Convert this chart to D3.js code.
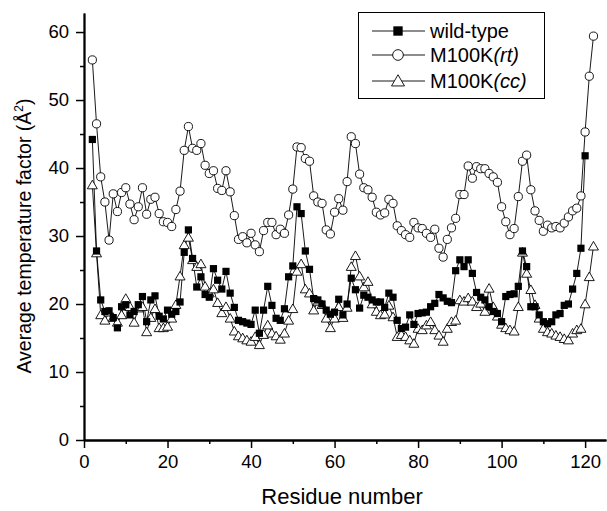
<!DOCTYPE html>
<html>
<head>
<meta charset="utf-8">
<script src="https://cdn.jsdelivr.net/npm/d3@7"></script>
<style>
  body { margin: 0; background: #fff; }
  svg { display: block; font-family: Arial, "Liberation Sans", sans-serif; }
</style>
</head>
<body>
<svg id="canvas"></svg>
<script>
// residue numbers 2..122
let residues = d3.range(2, 123);

// wild-type, residues 2..120
let wildType = [44.2, 27.8, 20.6, 18.9, 19.0, 18.0, 16.5, 19.6, 19.9, 18.4,
  18.9, 19.9, 21.1, 17.4, 20.6, 21.2, 18.2, 17.8, 19.1, 18.5,
  18.9, 20.3, 27.6, 30.9, 26.7, 22.5, 24.0, 21.4, 21.0, 25.2,
  23.5, 22.2, 24.8, 21.6, 19.5, 17.6, 17.4, 17.2, 17.0, 19.1,
  15.7, 19.1, 22.6, 19.8, 17.9, 17.6, 19.3, 24.0, 25.6, 34.3,
  33.3, 27.8, 25.1, 20.8, 20.6, 20.0, 19.1, 18.5, 18.8, 20.7,
  18.4, 20.0, 23.8, 22.1, 19.4, 21.3, 21.0, 20.6, 20.3, 20.3,
  19.5, 21.6, 21.0, 17.6, 16.4, 16.6, 18.4, 17.0, 18.6, 18.7,
  18.8, 19.6, 20.1, 21.4, 20.9, 20.4, 20.2, 24.9, 26.5, 25.5,
  26.5, 24.5, 21.7, 21.0, 20.6, 19.6, 18.9, 18.6, 17.4, 21.1,
  21.4, 21.5, 22.6, 27.8, 25.5, 19.6, 19.6, 18.4, 17.4, 17.1,
  17.4, 18.4, 18.6, 19.8, 20.0, 22.2, 24.5, 28.2, 41.8];

// M100K(rt), residues 2..122
let m100kRT = [55.9, 46.5, 38.7, 35.0, 29.4, 36.2, 33.6, 36.4, 37.1, 34.7,
  32.4, 34.3, 37.1, 33.2, 35.4, 35.7, 33.3, 32.1, 32.0, 31.4,
  33.9, 36.6, 42.6, 46.1, 42.9, 42.6, 43.6, 40.4, 39.2, 39.6,
  37.0, 36.7, 39.6, 36.5, 33.0, 29.5, 29.9, 29.0, 30.4, 28.7,
  27.7, 30.8, 32.0, 32.0, 30.2, 31.0, 30.4, 33.1, 36.9, 43.1,
  43.0, 41.4, 41.0, 35.9, 35.0, 34.8, 30.9, 30.3, 33.5, 35.5,
  33.8, 38.0, 44.6, 43.6, 39.1, 37.1, 36.8, 35.7, 33.5, 33.1,
  33.4, 35.4, 34.8, 31.5, 30.8, 30.2, 29.8, 32.0, 31.2, 31.1,
  30.4, 29.8, 31.0, 28.2, 26.9, 29.5, 31.2, 32.6, 36.1, 36.1,
  40.3, 38.5, 40.2, 39.9, 39.9, 39.2, 38.7, 37.9, 34.3, 32.1,
  30.2, 31.1, 35.8, 41.0, 41.9, 36.8, 33.7, 32.3, 30.7, 31.6,
  31.2, 31.4, 31.2, 31.9, 32.8, 33.7, 34.1, 35.9, 45.3, 53.5,
  59.4];

// M100K(cc), residues 2..122
let m100kCC = [37.5, 27.5, 18.4, 17.6, 18.8, 18.0, 17.3, 18.4, 20.8, 19.6,
  17.3, 19.4, 19.6, 15.9, 18.0, 19.3, 16.5, 16.5, 16.7, 17.9,
  19.9, 24.1, 28.7, 29.8, 26.5, 25.5, 25.9, 22.6, 21.6, 22.2,
  20.2, 18.7, 19.6, 17.9, 16.0, 15.3, 15.0, 14.7, 14.5, 15.2,
  14.0, 15.5, 16.9, 15.7, 15.3, 14.8, 15.7, 17.6, 19.3, 24.8,
  25.9, 22.2, 21.6, 19.1, 20.4, 19.9, 17.9, 16.5, 17.9, 19.6,
  18.0, 19.5, 25.5, 27.1, 24.1, 22.5, 23.3, 20.0, 18.9, 18.4,
  18.5, 19.8, 18.1, 15.2, 15.5, 15.2, 14.7, 14.2, 16.4, 16.2,
  16.9, 17.4, 16.2, 15.4, 14.5, 16.4, 17.4, 17.6, 20.6, 20.4,
  20.9, 20.4, 19.6, 20.1, 18.9, 22.3, 19.6, 18.2, 17.0, 16.5,
  16.2, 16.0, 19.6, 27.6, 24.5, 22.1, 19.9, 17.9, 16.4, 15.9,
  15.7, 15.4, 15.2, 14.9, 14.7, 15.7, 16.2, 16.4, 20.0, 24.0,
  28.5];

let xTicks = [0, 20, 40, 60, 80, 100, 120];
let yTicks = [0, 10, 20, 30, 40, 50, 60];

let seriesNames = ['wild-type', 'M100K', 'M100K'];
let seriesTags = ['', '(rt)', '(cc)'];
let seriesShapes = ['square', 'circle', 'triangle'];

let width = 607;
let height = 511;
let plotLeft = 84, plotRight = 606, plotTop = 13, plotBottom = 440;

let canvas = d3.select('#canvas')
  .attr('width', width)
  .attr('height', height);

let xScale = d3.scaleLinear().domain([0, 125]).range([plotLeft, plotRight]);
let yScale = d3.scaleLinear().domain([0, 62.8]).range([plotBottom, plotTop]);

// marker drawing, s = size factor
let drawMarker = (g, shape, s) => {
  if (shape === 'square') {
    g.append('rect').attr('x', -3.6 * s).attr('y', -3.6 * s)
      .attr('width', 7.2 * s).attr('height', 7.2 * s)
      .attr('fill', '#000');
  } else if (shape === 'circle') {
    g.append('circle').attr('r', 4.1 * s)
      .attr('fill', '#fff').attr('stroke', '#000').attr('stroke-width', 0.9);
  } else {
    g.append('path')
      .attr('d', 'M0,' + (-4.8 * s) + 'L' + (5 * s) + ',' + (3.8 * s) + 'L' + (-5 * s) + ',' + (3.8 * s) + 'Z')
      .attr('fill', '#fff').attr('stroke', '#000').attr('stroke-width', 0.9);
  }
}

let series = [
  residues.slice(0, wildType.length).map((r, i) => ({x: r, y: wildType[i]})),
  residues.map((r, i) => ({x: r, y: m100kRT[i]})),
  residues.map((r, i) => ({x: r, y: m100kCC[i]}))
];

let line = d3.line().x(d => xScale(d.x)).y(d => yScale(d.y));

// lines first, then markers (cc, rt, wt so squares end up on top)
[2, 1, 0].forEach(k => {
  canvas.append('path')
    .datum(series[k])
    .attr('d', line)
    .attr('fill', 'none')
    .attr('stroke', '#000')
    .attr('stroke-width', 0.9);
});
[2, 1, 0].forEach(k => {
  canvas.append('g').selectAll('g')
    .data(series[k])
    .enter()
    .append('g')
    .attr('transform', d => 'translate(' + xScale(d.x) + ',' + yScale(d.y) + ')')
    .each(function () { drawMarker(d3.select(this), seriesShapes[k], 1); });
});

// axes
let xAxis = d3.axisBottom(xScale).tickValues(xTicks).tickSize(8).tickPadding(7).tickSizeOuter(0);
let xMinor = d3.axisBottom(xScale).tickValues(d3.range(10, 125, 20)).tickSize(4).tickFormat('').tickSizeOuter(0);
let yAxis = d3.axisLeft(yScale).tickValues(yTicks).tickSize(8).tickPadding(7).tickSizeOuter(0);
let yMinor = d3.axisLeft(yScale).tickValues(d3.range(5, 62, 10)).tickSize(4).tickFormat('').tickSizeOuter(0);

canvas.append('g').attr('transform', 'translate(0,' + plotBottom + ')').call(xAxis);
canvas.append('g').attr('transform', 'translate(0,' + plotBottom + ')').call(xMinor);
canvas.append('g').attr('transform', 'translate(' + plotLeft + ',0)').call(yAxis);
canvas.append('g').attr('transform', 'translate(' + plotLeft + ',0)').call(yMinor);

canvas.selectAll('.domain').attr('stroke', '#000').attr('stroke-width', 1.8);
canvas.selectAll('.tick line').attr('stroke', '#000').attr('stroke-width', 1.5);
canvas.selectAll('.tick text').attr('fill', '#000').style('font-size', '18.5px')
  .style('font-family', 'Arial, "Liberation Sans", sans-serif');

// axis titles
canvas.append('text')
  .attr('x', 342).attr('y', 504)
  .attr('text-anchor', 'middle')
  .style('font-size', '22px')
  .text('Residue number');

let yTitle = canvas.append('text')
  .attr('transform', 'translate(31,236) rotate(-90)')
  .attr('text-anchor', 'middle')
  .style('font-size', '19.5px');
yTitle.append('tspan').text('Average temperature factor (Å');
yTitle.append('tspan').attr('dy', -8).style('font-size', '12px').text('2');
yTitle.append('tspan').attr('dy', 8).text(')');

// legend
let legend = canvas.append('g');
legend.append('rect')
  .attr('x', 358.5).attr('y', 12.5).attr('width', 186).attr('height', 86)
  .attr('fill', '#fff').attr('stroke', '#000').attr('stroke-width', 1);
let legendY = [31, 55, 81];
seriesNames.forEach((name, k) => {
  let g = legend.append('g').attr('transform', 'translate(0,' + legendY[k] + ')');
  g.append('line').attr('x1', 372).attr('x2', 425).attr('y1', 0).attr('y2', 0)
    .attr('stroke', '#000').attr('stroke-width', 0.9);
  let m = g.append('g').attr('transform', 'translate(398,0)');
  drawMarker(m, seriesShapes[k], 1.3);
  let t = g.append('text').attr('x', 430).attr('y', 7).style('font-size', '20px');
  t.append('tspan').text(name);
  if (seriesTags[k]) t.append('tspan').style('font-style', 'italic').text(seriesTags[k]);
});
</script>
</body>
</html>
